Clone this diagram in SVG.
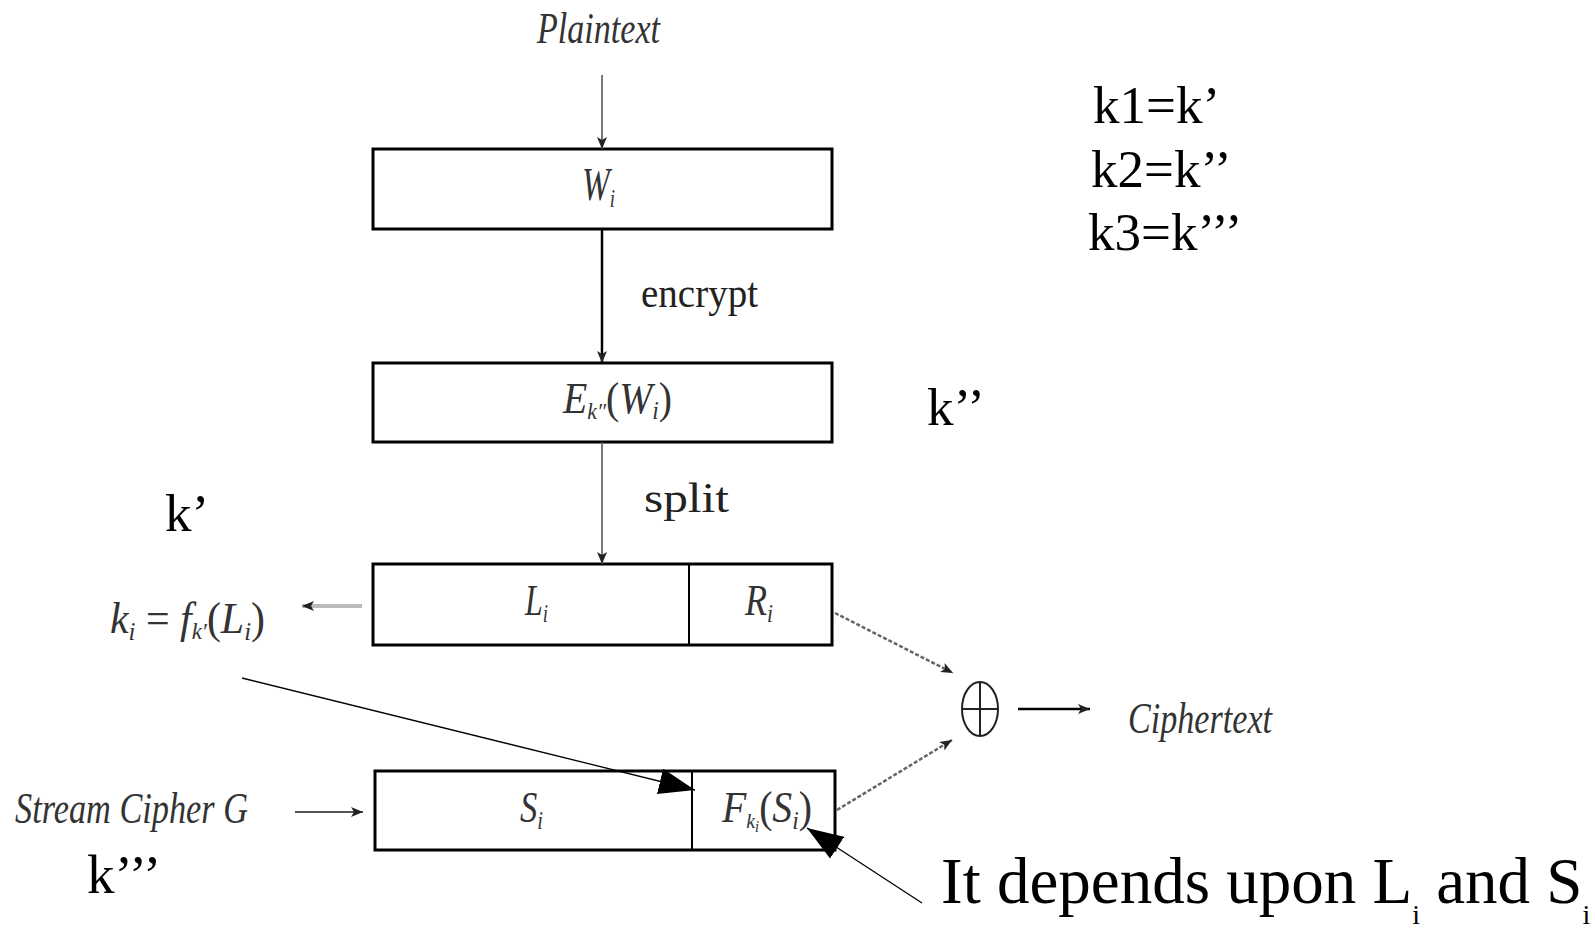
<svg xmlns="http://www.w3.org/2000/svg" width="1595" height="930" viewBox="0 0 1595 930">
<style>
.box{fill:#fff;stroke:#000;stroke-width:3}
.div{stroke:#000;stroke-width:2}
.m{font-family:"Liberation Serif",serif;font-style:italic;fill:#333}
.up{font-family:"Liberation Serif",serif;fill:#222}
.k{font-family:"Liberation Serif",serif;fill:#000}
.c{fill:none;stroke:#555;stroke-width:1.6}
</style>
<defs>
<marker id="sm" markerUnits="userSpaceOnUse" markerWidth="12" markerHeight="10" refX="12" refY="5" orient="auto"><path d="M0,0 L12,5 L0,10 L3,5 z" fill="#222"/></marker>
<marker id="big" markerUnits="userSpaceOnUse" markerWidth="36" markerHeight="26" refX="36" refY="13" orient="auto"><path d="M0,0 L36,13 L0,26 z" fill="#000"/></marker>
</defs>
<rect width="1595" height="930" fill="#fff"/>

<g id="plaintext"><text class="m" x="537" y="43" font-size="44" textLength="123" lengthAdjust="spacingAndGlyphs">Plaintext</text></g>

<g id="w-box">
<rect class="box" x="373" y="149" width="459" height="80"/>
<text class="m" x="582" y="200" font-size="46" textLength="33" lengthAdjust="spacingAndGlyphs">W<tspan dy="7" font-size="26">i</tspan></text>
</g>

<g id="encrypt-label"><text class="up" x="641" y="307" font-size="42" textLength="117" lengthAdjust="spacingAndGlyphs">encrypt</text></g>

<g id="e-box">
<rect class="box" x="373" y="363" width="459" height="79"/>
<text class="m" x="563" y="413" font-size="44" textLength="109" lengthAdjust="spacingAndGlyphs">E<tspan dy="6" font-size="24">k″</tspan><tspan dy="-6" font-style="normal">(</tspan>W<tspan dy="6" font-size="26">i</tspan><tspan dy="-6" font-style="normal">)</tspan></text>
</g>

<g id="k2-label"><text class="k" x="927" y="425" font-size="53">k’’</text></g>

<g id="split-label"><text class="up" x="644" y="512" font-size="42" textLength="85" lengthAdjust="spacingAndGlyphs">split</text></g>

<g id="k1-label"><text class="k" x="165" y="531" font-size="53">k’</text></g>

<g id="lr-box">
<rect class="box" x="373" y="564" width="459" height="81"/>
<line class="div" x1="689" y1="564" x2="689" y2="645"/>
<text class="m" x="525" y="615" font-size="44" textLength="23" lengthAdjust="spacingAndGlyphs">L<tspan dy="7" font-size="26">i</tspan></text>
<text class="m" x="745" y="615" font-size="44" textLength="28" lengthAdjust="spacingAndGlyphs">R<tspan dy="7" font-size="26">i</tspan></text>
</g>

<g id="ki-label"><text class="m" x="110" y="633" font-size="44" textLength="155" lengthAdjust="spacingAndGlyphs">k<tspan dy="7" font-size="26">i</tspan><tspan dy="-7" font-style="normal"> = </tspan>f<tspan dy="6" font-size="24">k′</tspan><tspan dy="-6" font-style="normal">(</tspan>L<tspan dy="7" font-size="26">i</tspan><tspan dy="-7" font-style="normal">)</tspan></text></g>

<g id="xor">
<ellipse cx="980" cy="709" rx="18" ry="27" fill="none" stroke="#222" stroke-width="2"/>
<line x1="962" y1="709" x2="998" y2="709" stroke="#222" stroke-width="2"/>
<line x1="980" y1="682" x2="980" y2="736" stroke="#222" stroke-width="2"/>
</g>

<g id="ciphertext"><text class="m" x="1128" y="733" font-size="44" textLength="144" lengthAdjust="spacingAndGlyphs">Ciphertext</text></g>

<g id="stream-cipher"><text class="m" x="15" y="823" font-size="44" textLength="233" lengthAdjust="spacingAndGlyphs">Stream Cipher G</text></g>

<g id="sf-box">
<rect class="box" x="375" y="771" width="460" height="79"/>
<line class="div" x1="692" y1="771" x2="692" y2="850"/>
<text class="m" x="520" y="822" font-size="44" textLength="23" lengthAdjust="spacingAndGlyphs">S<tspan dy="7" font-size="26">i</tspan></text>
<text class="m" x="722" y="822" font-size="44" textLength="90" lengthAdjust="spacingAndGlyphs">F<tspan dy="6" font-size="22">k</tspan><tspan dy="4" font-size="16">i</tspan><tspan dy="-10" font-style="normal">(</tspan>S<tspan dy="7" font-size="26">i</tspan><tspan dy="-7" font-style="normal">)</tspan></text>
</g>

<g id="k3-label"><text class="k" x="87" y="893" font-size="55">k’’’</text></g>

<g id="key-legend">
<text class="k" x="1093" y="123" font-size="53">k1=k’</text>
<text class="k" x="1091" y="187" font-size="53">k2=k’’</text>
<text class="k" x="1088" y="250" font-size="53">k3=k’’’</text>
</g>

<g id="note"><text class="k" x="941" y="903" font-size="65">It depends upon L<tspan dy="21" font-size="28">i</tspan><tspan dy="-21"> and S</tspan><tspan dy="21" font-size="28">i</tspan></text></g>

<g id="connectors">
<line class="c" x1="602" y1="75" x2="602" y2="149" marker-end="url(#sm)"/>
<line x1="602" y1="229" x2="602" y2="363" stroke="#000" stroke-width="2.5" marker-end="url(#sm)"/>
<line class="c" x1="602" y1="442" x2="602" y2="564" marker-end="url(#sm)"/>
<line x1="362" y1="606" x2="302" y2="606" stroke="#bbb" stroke-width="4" marker-end="url(#sm)"/>
<line x1="295" y1="812" x2="363" y2="812" stroke="#555" stroke-width="2" marker-end="url(#sm)"/>
<line x1="835" y1="613" x2="953" y2="673" stroke="#666" stroke-width="2.5" stroke-dasharray="4 2" marker-end="url(#sm)"/>
<line x1="837" y1="810" x2="952" y2="740" stroke="#666" stroke-width="2.5" stroke-dasharray="4 2" marker-end="url(#sm)"/>
<line x1="1018" y1="709" x2="1090" y2="709" stroke="#000" stroke-width="2.5" marker-end="url(#sm)"/>
<line x1="242" y1="678" x2="695" y2="790" stroke="#000" stroke-width="1.3" marker-end="url(#big)"/>
<line x1="922" y1="903" x2="807" y2="828" stroke="#000" stroke-width="1.3" marker-end="url(#big)"/>
</g>
</svg>
